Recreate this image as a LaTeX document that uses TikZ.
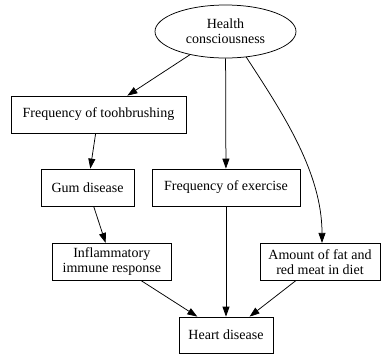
\documentclass[tikz,border=0pt]{standalone}
\usepackage{fontspec}
\setmainfont{Liberation Serif}
\usetikzlibrary{shapes.geometric,arrows.meta}

\begin{document}
\begin{tikzpicture}[x=1pt,y=-1pt,
  box/.style={draw, rectangle, line width=0.75pt, minimum height=37pt, inner sep=0pt, align=center, font=\fontsize{14}{15}\selectfont},
  oval/.style={draw, ellipse, line width=0.75pt, minimum width=141pt, minimum height=53pt, inner sep=0pt, align=center, font=\fontsize{14}{15}\selectfont},
  edge/.style={line width=0.75pt, -{Triangle[length=10pt,width=7pt]}}]
\useasboundingbox (0,0) rectangle (381,354);
\node[oval] (hc) at (225.5,31.5) {Health\\consciousness};
\node[box, minimum width=175pt] (tb) at (98.5,114.5) {Frequency of toohbrushing};
\node[box, minimum width=93pt] (gd) at (87.5,187.5) {Gum disease};
\node[box, minimum width=148pt] (ex) at (226,187.5) {Frequency of exercise};
\node[box, minimum width=119pt] (ir) at (111.8,261.8) {Inflammatory\\immune response};
\node[box, minimum width=120pt] (fm) at (320,261.8) {Amount of fat and\\red meat in diet};
\node[box, minimum width=94pt, minimum height=36pt] (hd) at (226,335) {Heart disease};
\draw[edge] (hc) -- (tb);
\draw[edge] (hc) -- (ex);
\draw[edge] (hc.-51) .. controls (282,112) and (322,172) .. ([xshift=2pt]fm.north);
\draw[edge] (tb) -- (gd);
\draw[edge] (gd) -- (ir);
\draw[edge] (ir) -- (hd);
\draw[edge] (ex) -- (hd);
\draw[edge] (fm) -- (hd);
\end{tikzpicture}
\end{document}
